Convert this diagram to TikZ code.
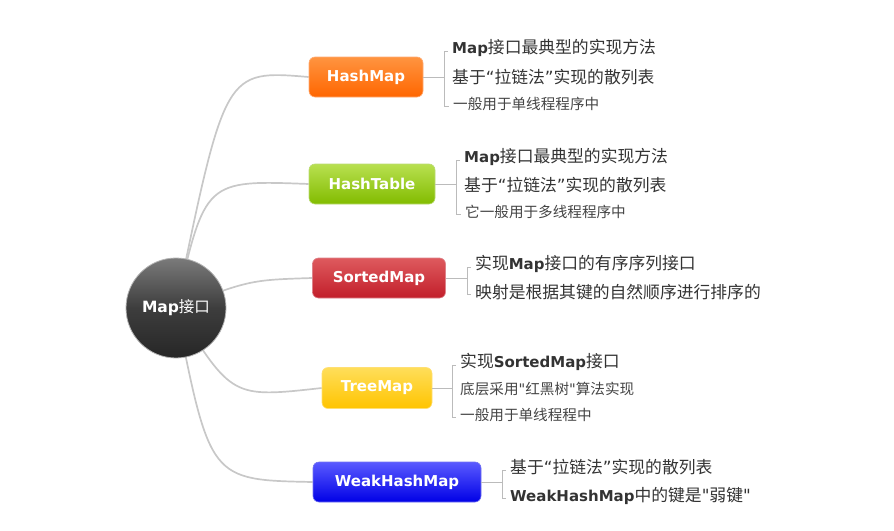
\documentclass[tikz,border=0pt]{standalone}
\usepackage{fontspec}
\setmainfont{Noto Sans CJK SC}[Ligatures=TeXOff]
\newfontfamily\dv{DejaVu Sans}[Ligatures=TeXOff]
\usetikzlibrary{calc,backgrounds}
\definecolor{linkgray}{HTML}{C8C8C8}
\definecolor{brkgray}{HTML}{BBBBBB}
\definecolor{txt}{HTML}{333333}
\definecolor{txtb}{HTML}{444444}
\definecolor{hmA}{HTML}{FF9440}\definecolor{hmB}{HTML}{FF6600}
\definecolor{htA}{HTML}{B8E050}\definecolor{htB}{HTML}{82BC00}
\definecolor{smA}{HTML}{DE5A5E}\definecolor{smB}{HTML}{C21E2A}
\definecolor{tmA}{HTML}{FFDE5A}\definecolor{tmB}{HTML}{FFC400}
\definecolor{wmA}{HTML}{5A5AFF}\definecolor{wmB}{HTML}{0000E6}
\newcommand\latb[1]{{\dv\bfseries\fontsize{15}{18}\selectfont #1}}
\newcommand\myLq{{\dv “}}
\newcommand\myRq{{\dv ”}}
\newcommand\mySq{{\dv "}}
\tikzset{
  link/.style={draw=linkgray, line width=1.7pt},
  brk/.style={draw=brkgray, line width=0.9pt},
  mapnode/.style 2 args={rounded corners=6pt, top color=#1, bottom color=#2,
    draw=#2!55!white, line width=0.6pt, text=white, inner sep=0pt,
    font=\dv\bfseries\fontsize{15}{17}\selectfont, minimum height=40pt},
  big/.style={anchor=west, text=txt, inner sep=0pt, font=\fontsize{16.8}{18}\selectfont},
  small/.style={anchor=west, text=txtb, inner sep=0pt, font=\fontsize{14.6}{16}\selectfont},
}
\begin{document}
\begin{tikzpicture}[x=1pt,y=-1pt]
\useasboundingbox (0,0) rectangle (894,530);
% central circle
\node[circle, minimum size=100pt, inner sep=0pt, draw=gray!60, line width=0.8pt,
      top color=black!52, bottom color=black!85, middle color=black!76,
      text=white, font=\fontsize{15.5}{18}\selectfont] (mc) at (176,308)
      {{\dv\bfseries Map}接口};
% branch nodes
\node[mapnode={hmA}{hmB}, minimum width=114pt] (hm) at (366,77) {HashMap};
\node[mapnode={htA}{htB}, minimum width=126pt] (ht) at (372,184) {HashTable};
\node[mapnode={smA}{smB}, minimum width=133pt] (sm) at (379,278) {SortedMap};
\node[mapnode={tmA}{tmB}, minimum width=110pt, minimum height=41pt] (tm) at (377,388) {TreeMap};
\node[mapnode={wmA}{wmB}, minimum width=168pt] (wm) at (397,482) {WeakHashMap};
% texts
\node[big] (hm1) at (452,48) {\latb{Map}接口最典型的实现方法};
\node[big] (hm2) at (452,77) {基于\myLq 拉链法\myRq 实现的散列表};
\node[small] (hm3) at (453,104) {一般用于单线程程序中};
\node[big] (ht1) at (464,157) {\latb{Map}接口最典型的实现方法};
\node[big] (ht2) at (464,185) {基于\myLq 拉链法\myRq 实现的散列表};
\node[small] (ht3) at (465,212) {它一般用于多线程程序中};
\node[big] (sm1) at (475,264) {实现\latb{Map}接口的有序序列接口};
\node[big] (sm2) at (475,292) {映射是根据其键的自然顺序进行排序的};
\node[big] (tm1) at (460,362) {实现\latb{SortedMap}接口};
\node[small] (tm2) at (460,389) {底层采用\mySq 红黑树\mySq 算法实现};
\node[small] (tm3) at (460,415) {一般用于单线程程中};
\node[big] (wm1) at (510,467) {基于\myLq 拉链法\myRq 实现的散列表};
\node[big] (wm2) at (510,496) {\latb{WeakHashMap}中的键是\mySq 弱键\mySq};
\begin{scope}[on background layer]
% main links
\draw[link] (mc.center) .. controls (225,70) .. (hm.west);
\draw[link] (mc.center) .. controls (205,180) .. (ht.west);
\draw[link] (mc.center) .. controls (250,280) .. (sm.west);
\draw[link] (mc.center) .. controls (232,398) .. (tm.west);
\draw[link] (mc.center) .. controls (210,480) .. (wm.west);
\end{scope}
% brackets
\foreach \n/\a/\b/\c in {hm/hm1/hm3/2, ht/ht1/ht3/2, sm/sm1/sm2/2, tm/tm1/tm3/2, wm/wm1/wm2/2}{
  \draw[brk] (\n.east) -- ([xshift=-8pt]\n.east -| \a.west);
  \draw[brk] ($(\a.west)+(-4,3)$) -- ++(-4,0) |- ($(\b.west)+(-4,\c)$);
}
\end{tikzpicture}
\end{document}
